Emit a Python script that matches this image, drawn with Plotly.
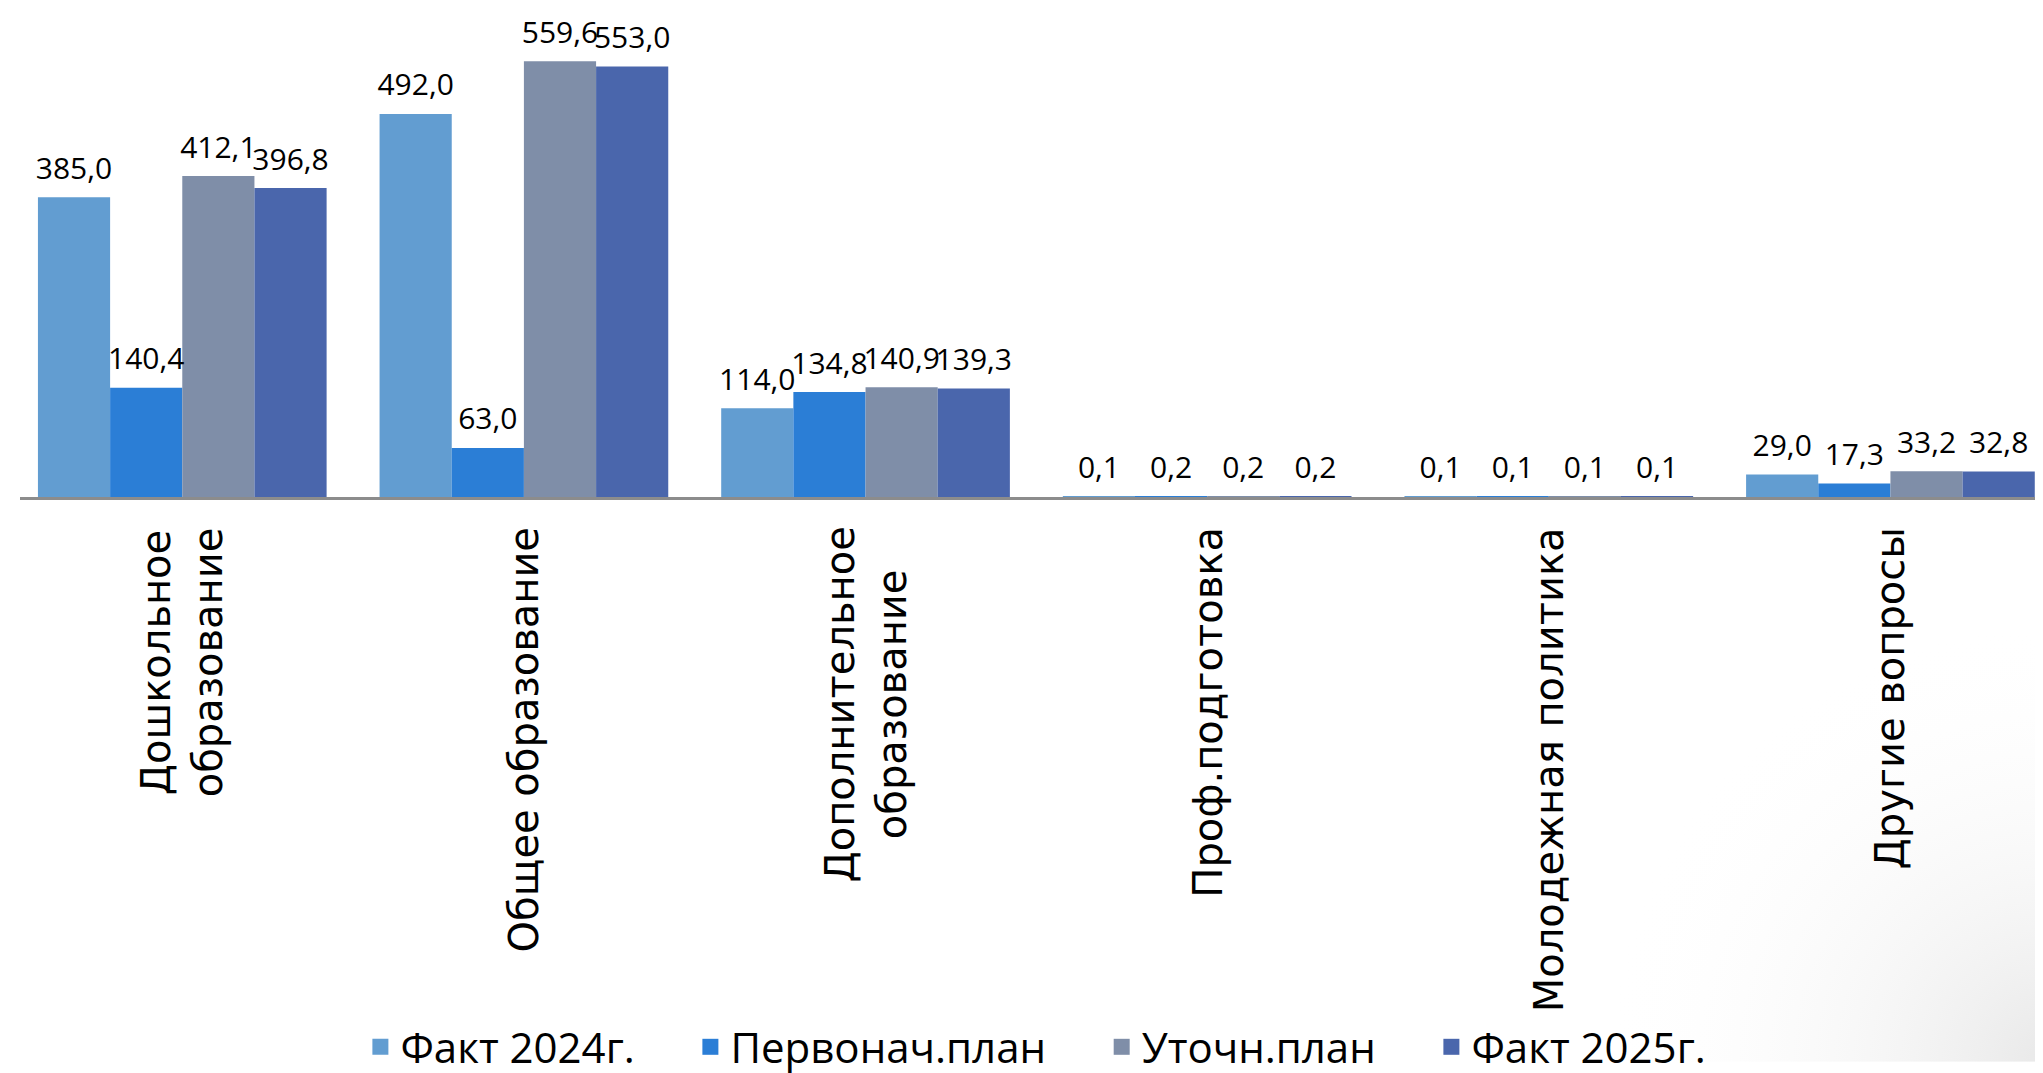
import base64

import plotly.graph_objects as go


CATEGORIES = [
    "Дошкольное<br>образование",
    "Общее образование",
    "Дополнительное<br>образование",
    "Проф.подготовка",
    "Молодежная политика",
    "Другие вопросы",
]

FACT_2024 = [385.0, 492.0, 114.0, 0.1, 0.1, 29.0]
PLAN_INITIAL = [140.4, 63.0, 134.8, 0.2, 0.1, 17.3]
PLAN_REVISED = [412.1, 559.6, 140.9, 0.2, 0.1, 33.2]
FACT_2025 = [396.8, 553.0, 139.3, 0.2, 0.1, 32.8]

SERIES = (
    ("Факт 2024г.", FACT_2024, "#629dd1"),
    ("Первонач.план", PLAN_INITIAL, "#2b7ed6"),
    ("Уточн.план", PLAN_REVISED, "#7f8ea8"),
    ("Факт 2025г.", FACT_2025, "#4a66ac"),
)

LABEL_FONT = "Open Sans, Liberation Sans, sans-serif"
CATEGORY_FONT = "DejaVu Sans, sans-serif"

x_idx = list(range(len(CATEGORIES)))

fig = go.Figure()
for n, (name, values, color) in enumerate(SERIES):
    group = f"s{n}"
    fig.add_trace(
        go.Bar(
            x=x_idx,
            y=values,
            name=name,
            offsetgroup=group,
            showlegend=False,
            hoverinfo="skip",
            marker={"color": color, "line": {"width": 0}},
        )
    )
    # value labels, aligned to the bars through the same offset group
    fig.add_trace(
        go.Scatter(
            x=x_idx,
            y=values,
            offsetgroup=group,
            mode="markers+text",
            text=[f"{v:.1f}".replace(".", ",") for v in values],
            textposition="top center",
            marker={"size": 16, "opacity": 0},
            textfont={"family": LABEL_FONT, "size": 30, "color": "#000000"},
            cliponaxis=False,
            showlegend=False,
            hoverinfo="skip",
        )
    )

# legend entries with bigger square swatches
for name, _, color in SERIES:
    fig.add_trace(
        go.Scatter(
            x=[None],
            y=[None],
            mode="markers",
            name=name + "\u00a0" * 4 + "\u2009",
            marker={"symbol": "square", "size": 16, "color": color},
        )
    )

# category labels, rotated, centered lines
for i, label in enumerate(CATEGORIES):
    fig.add_annotation(
        x=i,
        y=0,
        xref="x",
        yref="paper",
        text=label,
        textangle=-90,
        showarrow=False,
        yanchor="top",
        xanchor="center",
        yshift=-28,
        align="center",
        font={"family": CATEGORY_FONT, "size": 40, "color": "#000000"},
    )

# faint grey corner shading, bottom right
svg = (
    '<svg xmlns="http://www.w3.org/2000/svg" width="400" height="400">'
    '<defs><radialGradient id="g" cx="1" cy="1" r="1">'
    '<stop offset="0" stop-color="#e8e8e8"/>'
    '<stop offset="1" stop-color="#ffffff" stop-opacity="0"/>'
    "</radialGradient></defs>"
    '<rect width="400" height="400" fill="url(#g)"/></svg>'
)
fig.add_layout_image(
    source="data:image/svg+xml;base64," + base64.b64encode(svg.encode()).decode(),
    xref="paper",
    yref="paper",
    x=1,
    y=-1.155,
    xanchor="right",
    yanchor="bottom",
    sizex=0.22,
    sizey=0.9,
    sizing="stretch",
    layer="below",
)

fig.update_layout(
    width=2043,
    height=1073,
    margin={"l": 12, "r": 0, "t": 0, "b": 575},
    paper_bgcolor="#ffffff",
    plot_bgcolor="rgba(0,0,0,0)",
    barmode="group",
    bargap=0.155,
    bargroupgap=0,
    scattermode="group",
    scattergap=0.155,
    showlegend=True,
    legend={
        "orientation": "h",
        "x": 0.5125,
        "xanchor": "center",
        "y": -1.125,
        "yanchor": "middle",
        "font": {"family": LABEL_FONT, "size": 42, "color": "#000000"},
        "bgcolor": "rgba(0,0,0,0)",
    },
)
fig.update_xaxes(
    range=[-0.475, 5.47],
    showticklabels=False,
    showgrid=False,
    zeroline=False,
    showline=True,
    linecolor="#8c8c8c",
    linewidth=3,
    ticks="",
)
fig.update_yaxes(
    range=[0, 628],
    visible=False,
    showgrid=False,
    zeroline=False,
)

fig.write_html("out.html")
